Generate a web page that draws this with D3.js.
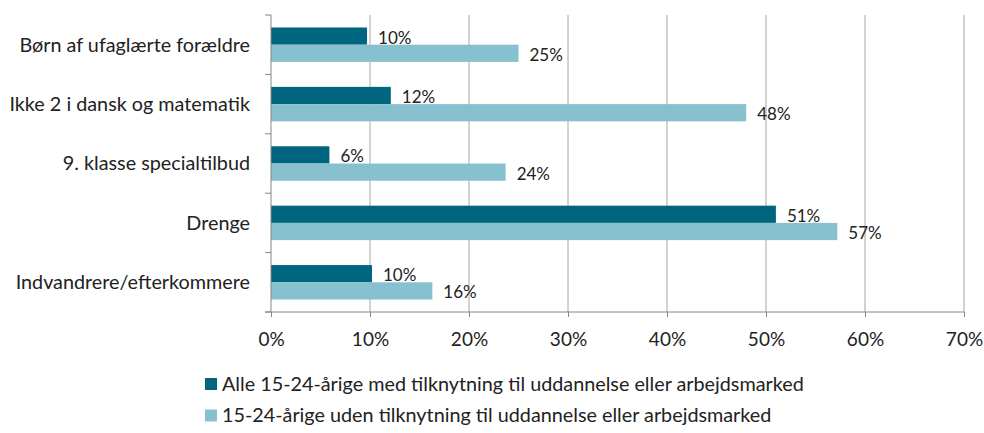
<!DOCTYPE html>
<html>
<head>
<meta charset="utf-8">
<script src="https://cdn.jsdelivr.net/npm/d3@7"></script>
<style>
  body { margin: 0; background: #fff; }
  text { font-family: Lato, "Open Sans", sans-serif; fill: #222; }
</style>
</head>
<body>
<div id="chart"></div>
<script>
// chart values
var categories = ["Børn af ufaglærte forældre", "Ikke 2 i dansk og matematik",
                  "9. klasse specialtilbud", "Drenge", "Indvandrere/efterkommere"];
var seriesNames = ["Alle 15-24-årige med tilknytning til uddannelse eller arbejdsmarked",
                   "15-24-årige uden tilknytning til uddannelse eller arbejdsmarked"];
var withValues = [9.7, 12.1, 5.9, 51.0, 10.2];
var withoutValues = [25.0, 48.0, 23.7, 57.2, 16.3];
var labelsWith = ["10%", "12%", "6%", "51%", "10%"];
var labelsWithout = ["25%", "48%", "24%", "57%", "16%"];
var xTicks = [0, 10, 20, 30, 40, 50, 60, 70];
var colors = ["#00667f", "#87c0cf"];

var w = 984, h = 433;
var mLeft = 271, mRight = 964, mTop = 15, mBottom = 312;

var svg = d3.select("#chart").append("svg")
  .attr("width", w).attr("height", h);

var x = d3.scaleLinear().domain([0, 70]).range([mLeft, mRight]);
var y = d3.scaleBand().domain(categories).range([mTop, mBottom]).paddingInner(0.42).paddingOuter(0.21);
var band = d3.scaleBand().domain([0, 1]).range([0, y.bandwidth()]);

// gridlines
svg.append("g").selectAll("line").data(xTicks.slice(1)).enter().append("line")
  .attr("x1", function(d){ return x(d); }).attr("x2", function(d){ return x(d); })
  .attr("y1", mTop).attr("y2", mBottom)
  .attr("stroke", "#a6a6a6").attr("stroke-width", 1);

// bars
var rows = categories.map(function(c, i){
  return [
    {cat: c, s: 0, v: withValues[i], lab: labelsWith[i]},
    {cat: c, s: 1, v: withoutValues[i], lab: labelsWithout[i]}
  ];
});
var flat = [].concat.apply([], rows);

svg.append("g").selectAll("rect").data(flat).enter().append("rect")
  .attr("x", x(0))
  .attr("y", function(d){ return y(d.cat) + band(d.s); })
  .attr("width", function(d){ return x(d.v) - x(0); })
  .attr("height", band.bandwidth())
  .attr("fill", function(d){ return colors[d.s]; });

svg.append("g").selectAll("text").data(flat).enter().append("text")
  .attr("x", function(d){ return x(d.v) + 11; })
  .attr("y", function(d){ return y(d.cat) + band(d.s) + band.bandwidth() / 2 + 1.5; })
  .attr("dy", "0.35em")
  .style("font-size", "17px")
  .text(function(d){ return d.lab; });

// y axis
var yAxis = svg.append("g").attr("transform", "translate(" + mLeft + ",0)");
yAxis.append("line").attr("x1", 0).attr("x2", 0).attr("y1", mTop).attr("y2", mBottom)
  .attr("stroke", "#868686");
var step = (mBottom - mTop) / categories.length;
yAxis.selectAll("line.tick").data(d3.range(categories.length + 1)).enter().append("line")
  .attr("class", "tick")
  .attr("x1", -6).attr("x2", 0)
  .attr("y1", function(i){ return mTop + i * step; })
  .attr("y2", function(i){ return mTop + i * step; })
  .attr("stroke", "#868686");
yAxis.selectAll("text").data(categories).enter().append("text")
  .attr("x", -21)
  .attr("y", function(d){ return y(d) + y.bandwidth() / 2; })
  .attr("dy", "0.35em")
  .attr("text-anchor", "end")
  .style("font-size", "19.8px")
  .text(function(d){ return d; });

// x axis
var xAxis = svg.append("g").attr("transform", "translate(0," + mBottom + ")")
  .call(d3.axisBottom(x).tickValues(xTicks).tickSize(5).tickFormat(function(d){ return d + "%"; }));
xAxis.select(".domain").attr("stroke", "#868686").attr("d", "M" + (mLeft - 6) + ",0H" + mRight);
xAxis.selectAll(".tick line").attr("stroke", "#868686");
xAxis.selectAll(".tick text")
  .attr("y", 21)
  .style("font-family", "Lato, sans-serif").style("font-size", "19px").attr("fill", "#222");

// legend
var legend = svg.append("g").selectAll("g").data(seriesNames).enter().append("g")
  .attr("transform", function(d, i){ return "translate(205," + (384 + i * 31.5) + ")"; });
legend.append("rect").attr("x", 0).attr("y", -6).attr("width", 12).attr("height", 12)
  .attr("fill", function(d, i){ return colors[i]; });
legend.append("text").attr("x", 17).attr("dy", "0.35em")
  .style("font-size", "19.8px")
  .text(function(d){ return d; });
</script>
</body>
</html>
